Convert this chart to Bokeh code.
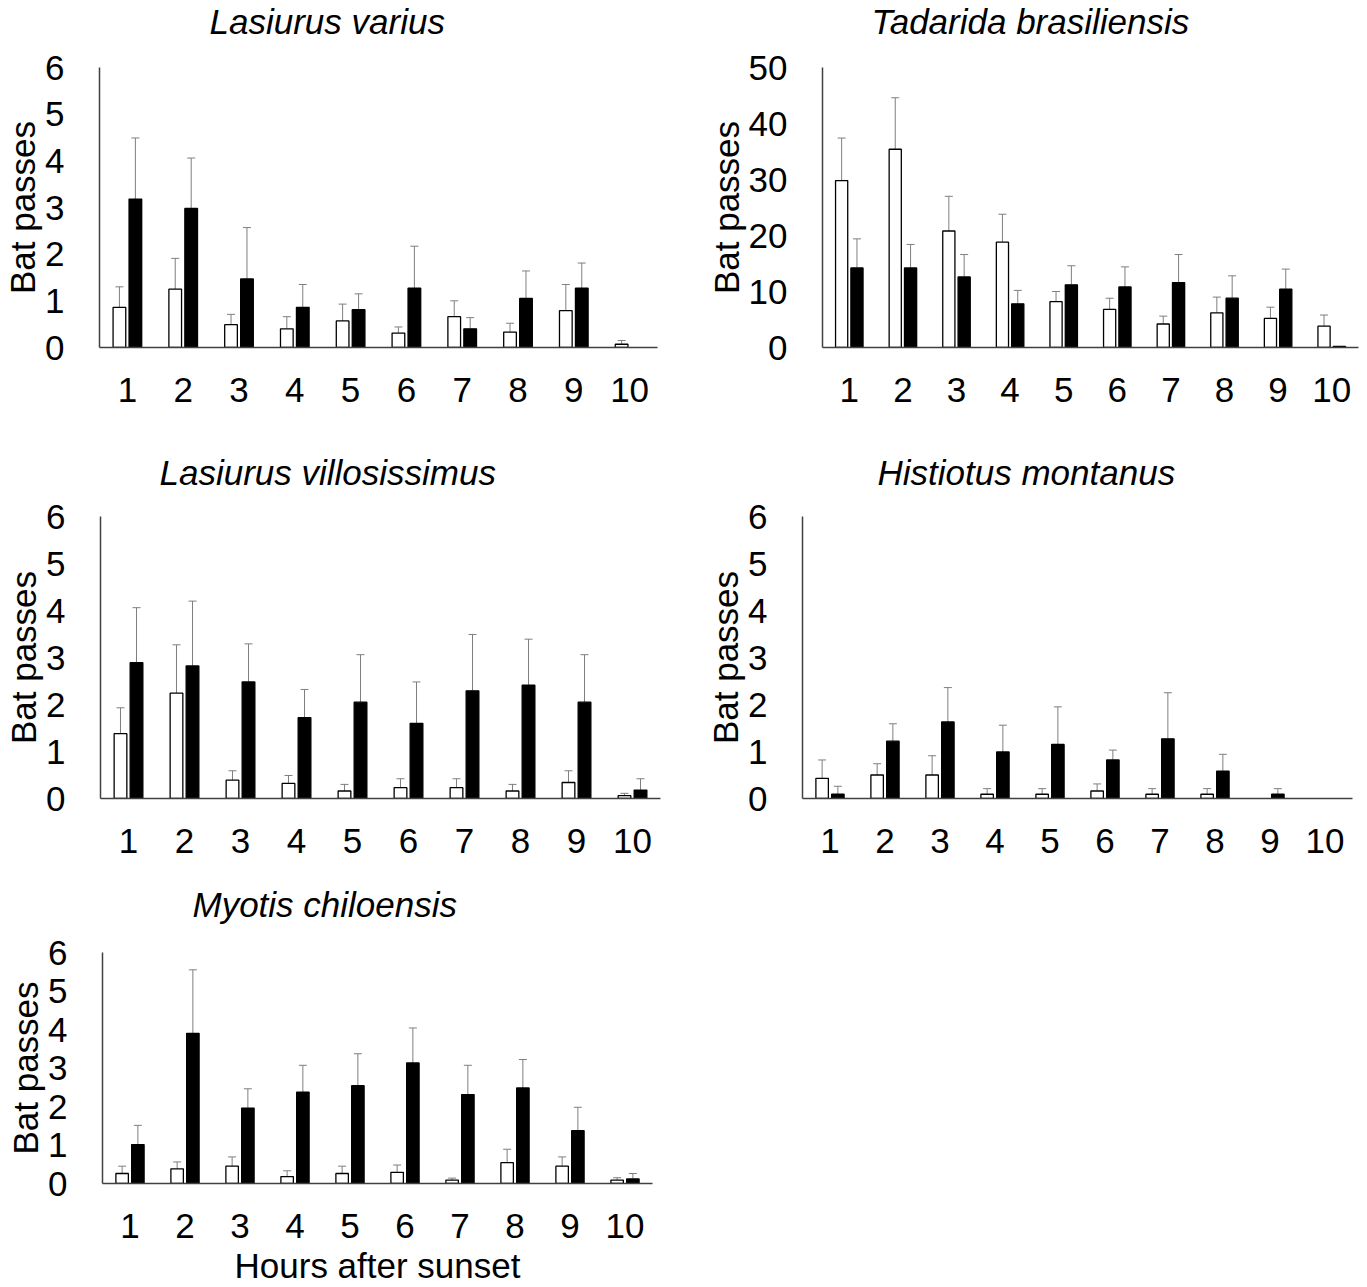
from bokeh.plotting import figure
from bokeh.layouts import column, row
from bokeh.models import ColumnDataSource, FixedTicker, Range1d, Whisker, TeeHead, Title
from bokeh.transform import dodge
from bokeh.embed import file_html
from bokeh.resources import INLINE

hours = [1, 2, 3, 4, 5, 6, 7, 8, 9, 10]
hour_labels = ["1", "2", "3", "4", "5", "6", "7", "8", "9", "10"]

# Lasiurus varius
varius_white = [0.86, 1.25, 0.49, 0.40, 0.57, 0.31, 0.66, 0.33, 0.79, 0.07]
varius_white_se = [0.44, 0.66, 0.22, 0.26, 0.36, 0.13, 0.34, 0.19, 0.56, 0.08]
varius_black = [3.18, 2.98, 1.47, 0.86, 0.81, 1.27, 0.40, 1.05, 1.27, 0.0]
varius_black_se = [1.31, 1.08, 1.10, 0.49, 0.34, 0.90, 0.24, 0.59, 0.54, 0.0]

# Tadarida brasiliensis
tadarida_white = [29.8, 35.4, 20.8, 18.8, 8.2, 6.8, 4.2, 6.2, 5.2, 3.8]
tadarida_white_se = [7.6, 9.2, 6.2, 5.0, 1.8, 2.0, 1.4, 2.8, 2.0, 2.0]
tadarida_black = [14.2, 14.2, 12.6, 7.8, 11.2, 10.8, 11.6, 8.8, 10.4, 0.2]
tadarida_black_se = [5.2, 4.2, 4.0, 2.4, 3.4, 3.6, 5.0, 4.0, 3.6, 0.0]

# Lasiurus villosissimus
villo_white = [1.38, 2.24, 0.39, 0.32, 0.16, 0.23, 0.23, 0.16, 0.34, 0.06]
villo_white_se = [0.55, 1.03, 0.20, 0.17, 0.14, 0.19, 0.19, 0.14, 0.25, 0.05]
villo_black = [2.89, 2.82, 2.48, 1.72, 2.05, 1.60, 2.29, 2.41, 2.05, 0.18]
villo_black_se = [1.17, 1.38, 0.81, 0.60, 1.01, 0.88, 1.20, 0.98, 1.01, 0.24]

# Histiotus montanus
histiotus_white = [0.43, 0.50, 0.50, 0.09, 0.09, 0.16, 0.09, 0.09, 0.0, 0.0]
histiotus_white_se = [0.39, 0.24, 0.41, 0.12, 0.12, 0.15, 0.12, 0.12, 0.0, 0.0]
histiotus_black = [0.09, 1.22, 1.63, 0.99, 1.15, 0.82, 1.27, 0.58, 0.09, 0.0]
histiotus_black_se = [0.17, 0.37, 0.73, 0.57, 0.80, 0.21, 0.98, 0.36, 0.12, 0.0]

# Myotis chiloensis
myotis_white = [0.26, 0.38, 0.45, 0.18, 0.26, 0.29, 0.09, 0.54, 0.45, 0.09]
myotis_white_se = [0.19, 0.18, 0.24, 0.15, 0.19, 0.19, 0.05, 0.35, 0.24, 0.06]
myotis_black = [1.01, 3.90, 1.96, 2.37, 2.54, 3.13, 2.31, 2.48, 1.37, 0.12]
myotis_black_se = [0.50, 1.65, 0.50, 0.70, 0.83, 0.91, 0.76, 0.74, 0.61, 0.14]

ticks_small = [0, 1, 2, 3, 4, 5, 6]
ticks_large = [0, 10, 20, 30, 40, 50]

FONT = "Liberation Sans"
FS = "35px"
TXT_H = 43      # approx. measured text box height for 35px
SP_H = 12       # approx. measured text box height for 10px spacer
OFF = 0.143
BW = 0.227
ERR_COLOR = "#7f7f7f"
AXIS_COLOR = "#404040"


def add_series(p, vals, ses, offset, fill):
    bh = [h for h, v in zip(hours, vals) if v > 0]
    bv = [v for v in vals if v > 0]
    src = ColumnDataSource(dict(hour=bh, top=bv))
    p.vbar(x=dodge("hour", offset), top="top", width=BW, bottom=0, source=src,
           fill_color=fill, line_color="black", line_width=1.3)
    wh = [h for h, s in zip(hours, ses) if s > 0]
    lo = [v for v, s in zip(vals, ses) if s > 0]
    up = [v + s for v, s in zip(vals, ses) if s > 0]
    wsrc = ColumnDataSource(dict(hour=wh, lower=lo, upper=up))
    w = Whisker(base=dodge("hour", offset), lower="lower", upper="upper", source=wsrc,
                dimension="height", line_color=ERR_COLOR, line_width=1,
                lower_head=None,
                upper_head=TeeHead(size=8, line_color=ERR_COLOR, line_width=1))
    p.add_layout(w)


def make_panel(title, white, white_se, black, black_se, ymax, yticks,
               width, height, fleft, fright, atop, base, tcy, tdx,
               xlabel=None):
    title_panel = 2 * tcy
    t_standoff = max(title_panel - 2 - TXT_H, 0)
    spacer = atop - title_panel
    s_standoff = max(spacer - 2 - SP_H, 0)

    p = figure(width=width, height=height,
               x_range=Range1d(0.5, 10.5), y_range=Range1d(0, ymax),
               output_backend="svg", toolbar_location=None,
               min_border_left=fleft, min_border_right=width - fright,
               min_border_top=0, min_border_bottom=height - base)
    p.outline_line_color = None
    p.grid.visible = False

    p.title.text = title
    p.title.text_font = FONT
    p.title.text_font_size = FS
    p.title.text_font_style = "italic"
    p.title.text_color = "black"
    p.title.align = "left"
    p.title.offset = tdx
    p.title.vertical_align = "middle"
    p.title.standoff = t_standoff
    p.add_layout(Title(text=" ", text_font_size="10px", standoff=s_standoff), "above")

    add_series(p, white, white_se, -OFF, "white")
    add_series(p, black, black_se, OFF, "black")

    p.xaxis.ticker = FixedTicker(ticks=hours)
    p.xaxis.major_label_overrides = {h: l for h, l in zip(hours, hour_labels)}
    p.yaxis.ticker = FixedTicker(ticks=yticks)
    for ax in (p.xaxis[0], p.yaxis[0]):
        ax.major_tick_line_color = None
        ax.minor_tick_line_color = None
        ax.axis_line_color = AXIS_COLOR
        ax.axis_line_width = 1.5
        ax.major_label_text_font = FONT
        ax.major_label_text_font_size = FS
        ax.major_label_text_color = "black"
        ax.axis_label_text_font = FONT
        ax.axis_label_text_font_size = FS
        ax.axis_label_text_font_style = "normal"
        ax.axis_label_text_color = "black"
    p.xaxis.major_label_standoff = 24
    p.yaxis.major_label_standoff = 29
    p.yaxis.axis_label = "Bat passes"
    p.yaxis.axis_label_standoff = 0
    if xlabel:
        p.xaxis.axis_label = xlabel
        p.xaxis.major_label_standoff = 24
        p.xaxis.axis_label_standoff = 5
    return p


p1 = make_panel("Lasiurus varius", varius_white, varius_white_se, varius_black, varius_black_se,
                6, ticks_small, 680, 446, 97, 657, 72, 347, 23, 110)
p2 = make_panel("Tadarida brasiliensis", tadarida_white, tadarida_white_se, tadarida_black, tadarida_black_se,
                50, ticks_large, 686, 446, 142, 678, 72, 351, 23, 49)
p3 = make_panel("Lasiurus villosissimus", villo_white, villo_white_se, villo_black, villo_black_se,
                6, ticks_small, 680, 434, 100, 660, 73, 352, 26, 59)
p4 = make_panel("Histiotus montanus", histiotus_white, histiotus_white_se, histiotus_black, histiotus_black_se,
                6, ticks_small, 686, 434, 122, 672, 75, 354, 28, 75)
p5 = make_panel("Myotis chiloensis", myotis_white, myotis_white_se, myotis_black, myotis_black_se,
                6, ticks_small, 680, 407, 102, 652, 77, 304, 26, 90, xlabel="Hours after sunset")

layout = column(row(p1, p2), row(p3, p4), row(p5))
open("out.html", "w").write(file_html(layout, INLINE))
